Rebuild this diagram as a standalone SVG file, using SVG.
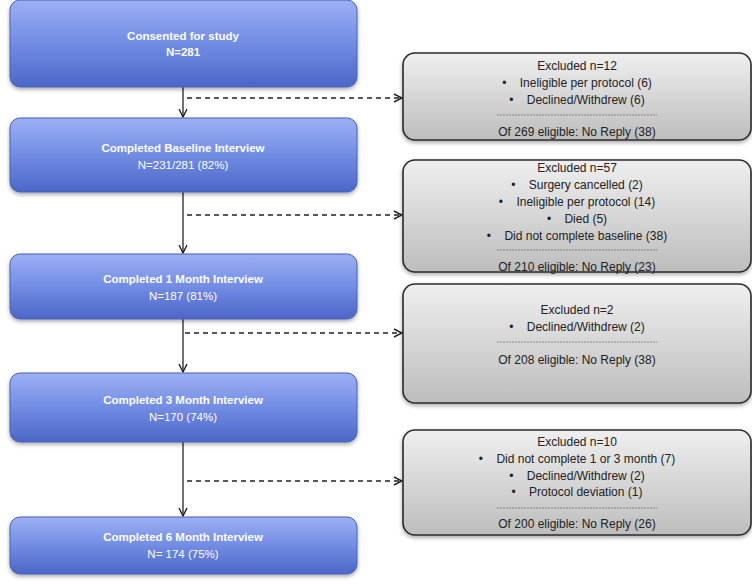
<svg xmlns="http://www.w3.org/2000/svg" width="752" height="584" viewBox="0 0 752 584">
<defs>
<linearGradient id="blue" x1="0" y1="0" x2="0" y2="1">
<stop offset="0" stop-color="#9cb0f4"/>
<stop offset="0.45" stop-color="#7690e6"/>
<stop offset="1" stop-color="#4c66c8"/>
</linearGradient>
<linearGradient id="grey" x1="0" y1="0" x2="0" y2="1">
<stop offset="0" stop-color="#efefef"/>
<stop offset="1" stop-color="#bdbdbd"/>
</linearGradient>
<filter id="sh" x="-5%" y="-10%" width="110%" height="130%">
<feGaussianBlur in="SourceAlpha" stdDeviation="2"/>
<feOffset dy="2" result="b"/>
<feComponentTransfer><feFuncA type="linear" slope="0.35"/></feComponentTransfer>
<feMerge><feMergeNode/><feMergeNode in="SourceGraphic"/></feMerge>
</filter>
<marker id="arr" viewBox="0 0 10 10" refX="9" refY="5" markerWidth="10" markerHeight="10" markerUnits="userSpaceOnUse" orient="auto">
<polyline points="1,1 9,5 1,9" fill="none" stroke="#222" stroke-width="1.4"/>
</marker>
</defs>
<style>
.bb{fill:url(#blue);stroke:#4a61b5;stroke-width:1;filter:url(#sh)}
.gb{fill:url(#grey);stroke:#2b2b2b;stroke-width:1.6;filter:url(#sh)}
.t1{font-family:"Liberation Sans",Arial,sans-serif;font-size:11.5px;font-weight:bold;fill:#fff;text-anchor:middle}
.t2{font-family:"Liberation Sans",Arial,sans-serif;font-size:11.5px;fill:#fff;text-anchor:middle}
.g{font-family:"Liberation Sans",Arial,sans-serif;font-size:12px;fill:#222;text-anchor:middle;white-space:pre}
.sep{stroke:#666;stroke-width:0.7;stroke-dasharray:2,1}
.v{stroke:#222;stroke-width:1.3;fill:none}
.d{stroke:#222;stroke-width:1.3;fill:none;stroke-dasharray:5,4}
</style>
<rect width="752" height="584" fill="#fff"/>

<g id="connectors">
<line class="v" x1="183" y1="87" x2="183" y2="117" marker-end="url(#arr)"/>
<line class="v" x1="183" y1="192" x2="183" y2="253" marker-end="url(#arr)"/>
<line class="v" x1="183" y1="319" x2="183" y2="372" marker-end="url(#arr)"/>
<line class="v" x1="183" y1="442" x2="183" y2="516" marker-end="url(#arr)"/>
<line class="d" x1="187" y1="98" x2="402" y2="98" marker-end="url(#arr)"/>
<line class="d" x1="187" y1="215" x2="402" y2="215" marker-end="url(#arr)"/>
<line class="d" x1="185" y1="333" x2="402" y2="333" marker-end="url(#arr)"/>
<line class="d" x1="187" y1="481" x2="402" y2="481" marker-end="url(#arr)"/>
</g>

<g id="n1">
<rect class="bb" x="10" y="0" width="347" height="87" rx="10"/>
<text class="t1" x="183" y="40">Consented for study</text>
<text class="t1" x="183" y="56">N=281</text>
</g>
<g id="n2">
<rect class="bb" x="10" y="118" width="347" height="74" rx="10"/>
<text class="t1" x="183" y="152">Completed Baseline Interview</text>
<text class="t2" x="183" y="169">N=231/281 (82%)</text>
</g>
<g id="n3">
<rect class="bb" x="10" y="254" width="347" height="65" rx="10"/>
<text class="t1" x="183" y="283">Completed 1 Month Interview</text>
<text class="t2" x="183" y="300">N=187 (81%)</text>
</g>
<g id="n4">
<rect class="bb" x="10" y="373" width="347" height="69" rx="10"/>
<text class="t1" x="183" y="404">Completed 3 Month Interview</text>
<text class="t2" x="183" y="421">N=170 (74%)</text>
</g>
<g id="n5">
<rect class="bb" x="10" y="517" width="347" height="57" rx="10"/>
<text class="t1" x="183" y="541">Completed 6 Month Interview</text>
<text class="t2" x="183" y="558">N= 174 (75%)</text>
</g>

<g id="e1">
<rect class="gb" x="403" y="53" width="348" height="87" rx="12"/>
<text class="g" x="577" y="70">Excluded n=12</text>
<text class="g" x="577" y="87">•    Ineligible per protocol (6)</text>
<text class="g" x="577" y="104">•    Declined/Withdrew (6)</text>
<line class="sep" x1="497" y1="115" x2="657" y2="115"/>
<text class="g" x="577" y="136">Of 269 eligible: No Reply (38)</text>
</g>
<g id="e2">
<rect class="gb" x="403" y="160" width="348" height="112" rx="12"/>
<text class="g" x="577" y="172">Excluded n=57</text>
<text class="g" x="577" y="189">•    Surgery cancelled (2)</text>
<text class="g" x="577" y="206">•    Ineligible per protocol (14)</text>
<text class="g" x="577" y="223">•    Died (5)</text>
<text class="g" x="577" y="240">•    Did not complete baseline (38)</text>
<line class="sep" x1="497" y1="250" x2="657" y2="250"/>
<text class="g" x="577" y="271">Of 210 eligible: No Reply (23)</text>
</g>
<g id="e3">
<rect class="gb" x="403" y="284" width="348" height="119" rx="12"/>
<text class="g" x="577" y="314">Excluded n=2</text>
<text class="g" x="577" y="331">•    Declined/Withdrew (2)</text>
<line class="sep" x1="497" y1="342" x2="657" y2="342"/>
<text class="g" x="577" y="364">Of 208 eligible: No Reply (38)</text>
</g>
<g id="e4">
<rect class="gb" x="403" y="430" width="348" height="105" rx="12"/>
<text class="g" x="577" y="446">Excluded n=10</text>
<text class="g" x="577" y="463">•    Did not complete 1 or 3 month (7)</text>
<text class="g" x="577" y="480">•    Declined/Withdrew (2)</text>
<text class="g" x="577" y="496">•    Protocol deviation (1)</text>
<line class="sep" x1="497" y1="508" x2="657" y2="508"/>
<text class="g" x="577" y="528">Of 200 eligible: No Reply (26)</text>
</g>
</svg>
